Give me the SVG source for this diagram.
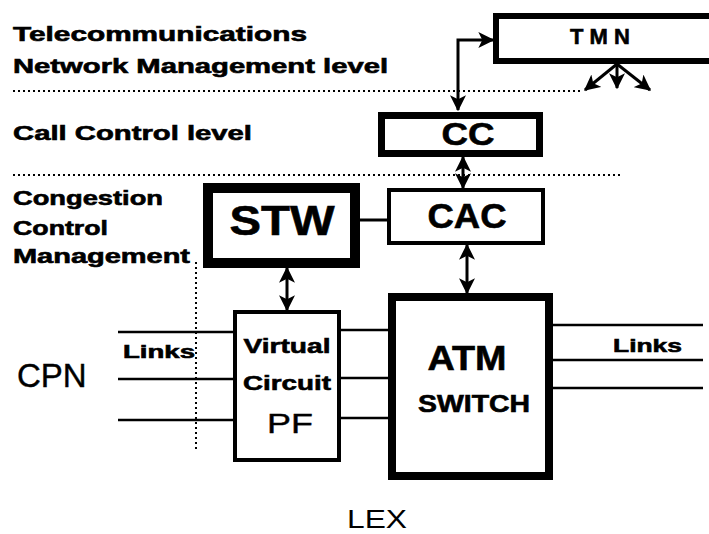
<svg xmlns="http://www.w3.org/2000/svg" width="709" height="534" viewBox="0 0 709 534">
<style>
text{font-family:"Liberation Sans",Arial,sans-serif;fill:#000}
.lbl{font-size:20px;font-weight:bold;stroke:#000;stroke-width:0.6}
.b{stroke:#000;stroke-width:0.6}
.box{fill:#fff;stroke:#000}
.con{fill:none;stroke:#000;stroke-width:3}
.link{fill:none;stroke:#000;stroke-width:2.5}
.dot{fill:none;stroke:#000;stroke-width:2;stroke-dasharray:2 3}
</style>
<defs>
<marker id="ah" markerUnits="userSpaceOnUse" markerWidth="16" markerHeight="16" refX="11" refY="6" orient="auto-start-reverse" viewBox="0 0 12 12">
<path d="M0,0 L12,6 L0,12 L3,6 z" fill="#000"/>
</marker>
</defs>
<rect width="709" height="534" fill="#fff"/>

<g id="levels">
<text class="lbl" x="13" y="41" textLength="294" lengthAdjust="spacingAndGlyphs">Telecommunications</text>
<text class="lbl" x="13" y="73" textLength="375" lengthAdjust="spacingAndGlyphs">Network Management level</text>
<text class="lbl" x="13" y="140" textLength="239" lengthAdjust="spacingAndGlyphs">Call Control level</text>
<text class="lbl" x="13" y="205" textLength="150" lengthAdjust="spacingAndGlyphs">Congestion</text>
<text class="lbl" x="13" y="235" textLength="95" lengthAdjust="spacingAndGlyphs">Control</text>
<text class="lbl" x="13" y="263" textLength="177" lengthAdjust="spacingAndGlyphs">Management</text>
<line class="dot" x1="13" y1="91" x2="583" y2="91"/>
<line class="dot" x1="13" y1="175" x2="620" y2="175"/>
<line class="dot" x1="196" y1="262" x2="196" y2="450"/>
</g>

<g id="connectors">
<path class="con" d="M493,40 H458 V110" marker-start="url(#ah)" marker-end="url(#ah)"/>
<line class="con" x1="463" y1="157" x2="463" y2="188" marker-start="url(#ah)" marker-end="url(#ah)"/>
<line class="con" x1="467" y1="245" x2="467" y2="293" marker-start="url(#ah)" marker-end="url(#ah)"/>
<line class="con" x1="287" y1="268" x2="287" y2="310" marker-start="url(#ah)" marker-end="url(#ah)"/>
<line class="con" x1="360" y1="220" x2="387" y2="220"/>
<line class="con" x1="617" y1="64" x2="585" y2="90" marker-end="url(#ah)"/>
<line class="con" x1="617" y1="64" x2="617" y2="88" marker-end="url(#ah)"/>
<line class="con" x1="617" y1="64" x2="650" y2="90" marker-end="url(#ah)"/>
<line class="link" x1="118" y1="332" x2="233" y2="332"/>
<line class="link" x1="118" y1="379" x2="233" y2="379"/>
<line class="link" x1="118" y1="420" x2="233" y2="420"/>
<line class="link" x1="341" y1="330" x2="388" y2="330"/>
<line class="link" x1="341" y1="378" x2="388" y2="378"/>
<line class="link" x1="341" y1="418" x2="388" y2="418"/>
<line class="link" x1="553" y1="325" x2="703" y2="325"/>
<line class="link" x1="553" y1="360" x2="703" y2="360"/>
<line class="link" x1="553" y1="388" x2="703" y2="388"/>
</g>

<g id="tmn">
<rect class="box" x="496" y="16" width="230" height="45" stroke-width="6"/>
<text class="b" x="600" y="44" text-anchor="middle" font-size="22" font-weight="bold">T M N</text>
</g>

<g id="cc">
<rect class="box" x="381.5" y="115.5" width="158" height="38" stroke-width="7"/>
<text class="b" x="468" y="145" text-anchor="middle" font-size="32" font-weight="bold" textLength="53" lengthAdjust="spacingAndGlyphs">CC</text>
</g>

<g id="stw">
<rect class="box" x="208" y="188" width="147" height="75" stroke-width="10"/>
<text class="b" x="282" y="235" text-anchor="middle" font-size="42" font-weight="bold" textLength="105" lengthAdjust="spacingAndGlyphs">STW</text>
</g>

<g id="cac">
<rect class="box" x="389" y="190" width="154" height="53" stroke-width="4"/>
<text class="b" x="467" y="228" text-anchor="middle" font-size="35" font-weight="bold" textLength="79" lengthAdjust="spacingAndGlyphs">CAC</text>
</g>

<g id="pf">
<rect class="box" x="235" y="312" width="104" height="148" stroke-width="4"/>
<text class="b" x="287" y="353" text-anchor="middle" font-size="21" font-weight="bold" textLength="87" lengthAdjust="spacingAndGlyphs">Virtual</text>
<text class="b" x="287" y="390" text-anchor="middle" font-size="21" font-weight="bold" textLength="88" lengthAdjust="spacingAndGlyphs">Circuit</text>
<text x="290" y="433" text-anchor="middle" font-size="28" textLength="46" lengthAdjust="spacingAndGlyphs" stroke="#000" stroke-width="0.4">PF</text>
</g>

<g id="atm">
<rect class="box" x="392" y="297" width="157" height="179" stroke-width="8"/>
<text class="b" x="467" y="370" text-anchor="middle" font-size="35" font-weight="bold" textLength="79" lengthAdjust="spacingAndGlyphs">ATM</text>
<text class="b" x="474" y="412" text-anchor="middle" font-size="23" font-weight="bold" textLength="112" lengthAdjust="spacingAndGlyphs">SWITCH</text>
</g>

<g id="labels">
<text class="b" x="123" y="358" font-size="18" font-weight="bold" textLength="72" lengthAdjust="spacingAndGlyphs">Links</text>
<text class="b" x="613" y="352" font-size="19" font-weight="bold" textLength="69" lengthAdjust="spacingAndGlyphs">Links</text>
<text x="17" y="387" font-size="33" stroke="#000" stroke-width="0.4">CPN</text>
<text x="377" y="528" text-anchor="middle" font-size="25" textLength="60" lengthAdjust="spacingAndGlyphs">LEX</text>
</g>
</svg>
